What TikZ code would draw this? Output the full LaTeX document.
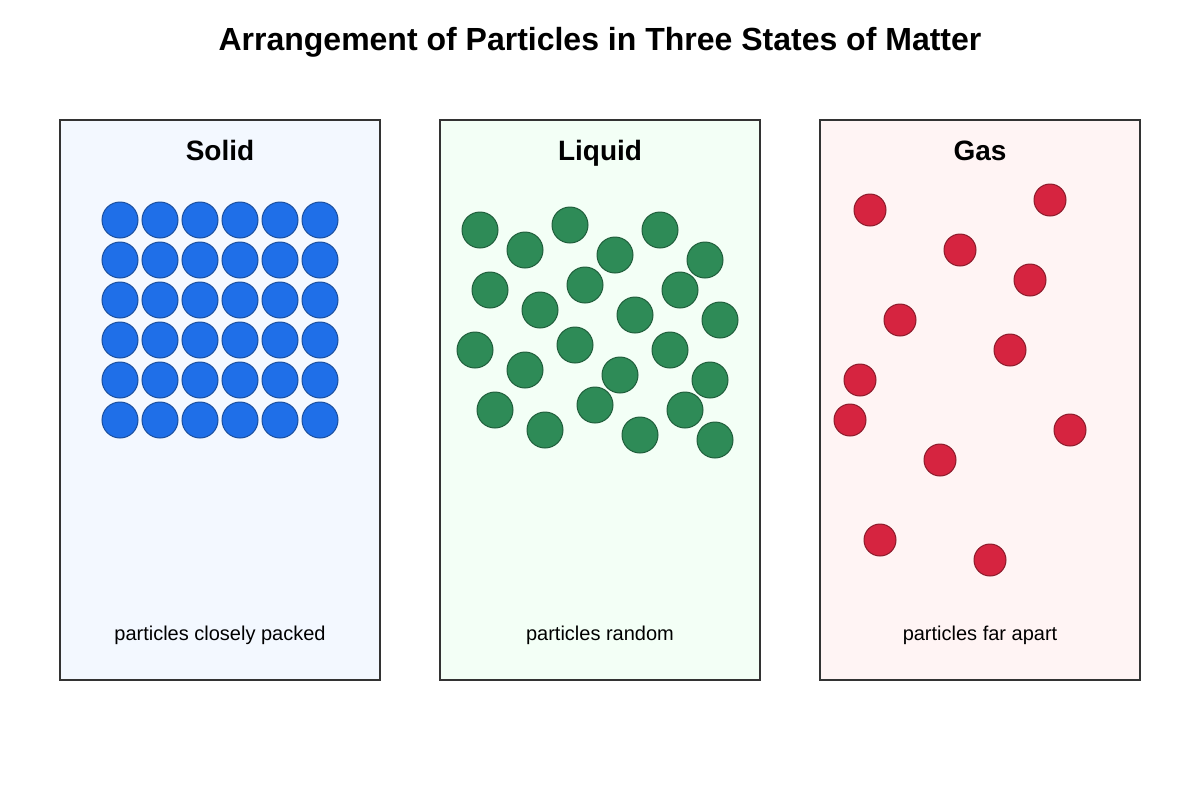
\documentclass[tikz,border=0pt]{standalone}
\usepackage{fontspec}
\setmainfont{Liberation Sans}
\definecolor{panelborder}{HTML}{333333}
\definecolor{solidbg}{HTML}{F3F8FF}
\definecolor{liquidbg}{HTML}{F3FFF6}
\definecolor{gasbg}{HTML}{FFF4F4}
\definecolor{solidfill}{HTML}{1F6FE8}
\definecolor{solidline}{HTML}{1A4F9F}
\definecolor{liquidfill}{HTML}{2E8B57}
\definecolor{liquidline}{HTML}{1F5E3B}
\definecolor{gasfill}{HTML}{D62440}
\definecolor{gasline}{HTML}{8B1A2A}
\tikzset{
  panel/.style={draw=panelborder, line width=1.5pt},
  titletext/.style={anchor=base, inner sep=0pt, font=\fontsize{24}{29}\selectfont\bfseries},
  headtext/.style={anchor=base, inner sep=0pt, font=\fontsize{21}{25}\selectfont\bfseries},
  captext/.style={anchor=base, inner sep=0pt, font=\fontsize{15}{18}\selectfont},
  solidp/.style={circle, draw=solidline, fill=solidfill, line width=0.75pt, minimum size=27pt, inner sep=0pt},
  liquidp/.style={circle, draw=liquidline, fill=liquidfill, line width=0.75pt, minimum size=27pt, inner sep=0pt},
  gasp/.style={circle, draw=gasline, fill=gasfill, line width=0.75pt, minimum size=24pt, inner sep=0pt},
}
\begin{document}
\begin{tikzpicture}[x=0.75pt,y=-0.75pt]
\useasboundingbox[fill=white] (0,0) rectangle (1200,800);
\node[titletext] (title) at (600,50) {Arrangement of Particles in Three States of Matter};
% panels
\draw[panel, fill=solidbg] (60,120) rectangle (380,680);
\draw[panel, fill=liquidbg] (440,120) rectangle (760,680);
\draw[panel, fill=gasbg] (820,120) rectangle (1140,680);
\node[headtext] (hsolid) at (220,160) {Solid};
\node[headtext] (hliquid) at (600,160) {Liquid};
\node[headtext] (hgas) at (980,160) {Gas};
\node[captext] (csolid) at (220,640) {particles closely packed};
\node[captext] (cliquid) at (600,640) {particles random};
\node[captext] (cgas) at (980,640) {particles far apart};
% solid particles
\foreach \i in {0,...,5}{
  \foreach \j in {0,...,5}{
    \node[solidp] (s\i\j) at ({120+40*\i},{220+40*\j}) {};
  }
}
% liquid particles
\foreach \x/\y [count=\k] in {480/230,525/250,570/225,615/255,660/230,705/260,
  490/290,540/310,585/285,635/315,680/290,720/320,
  475/350,525/370,575/345,620/375,670/350,710/380,
  495/410,545/430,595/405,640/435,685/410,715/440}{
  \node[liquidp] (l\k) at (\x,\y) {};
}
% gas particles
\foreach \x/\y [count=\k] in {870/210,1050/200,960/250,1030/280,900/320,1010/350,
  860/380,850/420,1070/430,940/460,880/540,990/560}{
  \node[gasp] (g\k) at (\x,\y) {};
}
\end{tikzpicture}
\end{document}
